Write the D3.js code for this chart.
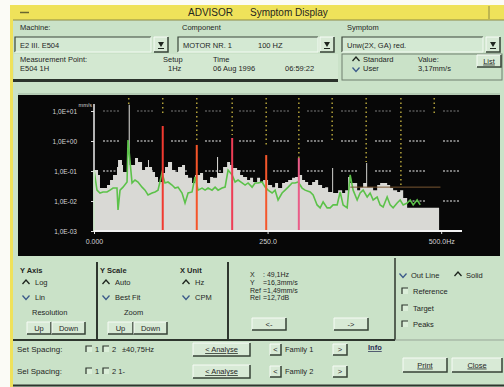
<!DOCTYPE html>
<html>
<head>
<meta charset="utf-8">
<script src="https://cdn.jsdelivr.net/npm/d3@7"></script>
<style>
  html, body { margin: 0; padding: 0; background: #fff; }
  svg { display: block; font-family: "Liberation Sans", Arial, sans-serif; }
</style>
</head>
<body>
<div id="chart"></div>
<script>
// solid spectrum (grey), [frequency Hz, amplitude mm/s]
const spectrum = [
  [0, 0.108], [5.8, 0.074], [8.6, 0.027], [15.9, 0.027], [18.7, 0.034], [23.1, 0.05],
  [27.4, 0.074], [33.1, 0.136], [34.6, 0.233], [37.5, 0.233], [40.3, 0.158], [41.8, 0.093],
  [47.6, 0.585], [50, 16.3], [51.5, 0.158], [59.1, 0.271], [63.4, 0.2], [69.2, 0.108],
  [73.5, 0.136], [77.8, 0.233], [79.2, 0.136], [83.6, 0.093], [87.9, 0.063], [92.2, 0.043],
  [97.9, 0.086], [102.3, 0.136], [106.6, 0.2], [112.4, 0.108], [116.7, 0.093], [121, 0.136],
  [126.8, 0.158], [131.1, 0.074], [135.5, 0.059], [141.2, 0.04], [145.5, 0.074], [152.7, 0.086],
  [157.1, 0.05], [162.8, 0.04], [167.2, 0.063], [171.5, 0.059], [177.2, 0.293], [178.7, 0.086],
  [185.9, 0.136], [191.7, 0.2], [196, 0.158], [200.3, 0.126], [206.1, 0.108], [210.4, 0.074],
  [214.7, 0.063], [220.5, 0.05], [224.8, 0.059], [229.1, 0.043], [234.9, 0.059], [239.2, 0.04],
  [243.5, 0.05], [250.7, 0.034], [256.5, 0.029], [260.8, 0.04], [265.1, 0.027], [270.9, 0.04],
  [275.2, 0.043], [279.6, 0.05], [285.3, 0.059], [289.6, 0.063], [294, 0.074], [299.7, 0.05],
  [304, 0.043], [308.4, 0.034], [314.1, 0.043], [318.5, 0.05], [322.8, 0.034], [328.5, 0.027],
  [332.9, 0.029], [337.2, 0.02], [343, 0.126], [344.4, 0.0185], [351.6, 0.023], [357.4, 0.0185],
  [361.7, 0.023], [366, 0.063], [368.9, 0.04], [373.2, 0.04], [379, 0.023], [383.3, 0.029],
  [387.6, 0.04], [392, 0.185], [393.4, 0.029], [402, 0.023], [407.8, 0.034], [412.1, 0.04],
  [416.4, 0.04], [422.2, 0.034], [426.5, 0.027], [430.8, 0.023], [436.6, 0.02], [440.9, 0.023],
  [445.3, 0.0126], [451, 0.0059], [497, 0.0059]
]

// outline / reference trace (green)
const reference = [
  [0, 0.001], [0, 0.108], [4.3, 0.023], [8.6, 0.0185], [13, 0.02], [18.7, 0.02], [23.1, 0.023],
  [27.4, 0.027], [33.1, 0.027], [34.6, 0.005], [37.5, 0.023], [41.8, 0.029], [47.6, 0.043],
  [49, 1.08], [54.8, 0.04], [59.1, 0.05], [63.4, 0.043], [69.2, 0.029], [73.5, 0.023],
  [77.8, 0.0158], [83.6, 0.0185], [87.9, 0.02], [92.2, 0.023], [97.9, 0.086], [102.3, 0.04],
  [106.6, 0.043], [112.4, 0.034], [116.7, 0.027], [121, 0.029], [126.8, 0.0185], [131.1, 0.0086],
  [135.5, 0.0185], [141.2, 0.02], [145.5, 0.063], [149.9, 0.023], [155.6, 0.027], [160, 0.023],
  [164.3, 0.027], [170, 0.023], [174.4, 0.029], [178.7, 0.023], [184.4, 0.027], [188.8, 0.029],
  [193.1, 0.108], [198.9, 0.074], [203.2, 0.043], [207.5, 0.05], [213.3, 0.04], [217.6, 0.034],
  [221.9, 0.04], [227.7, 0.029], [232, 0.04], [236.3, 0.04], [242.1, 0.043], [246.4, 0.029],
  [250.7, 0.023], [256.5, 0.0185], [260.8, 0.023], [265.1, 0.0108], [270.9, 0.0185], [275.2, 0.023],
  [279.6, 0.029], [285.3, 0.04], [289.6, 0.04], [294, 0.043], [299.7, 0.027], [304, 0.023],
  [311.3, 0.02], [315.6, 0.0158], [321.3, 0.0074], [325.7, 0.0059], [330, 0.0093], [335.8, 0.0059],
  [340.1, 0.0059], [344.4, 0.0074], [350.2, 0.0074], [354.5, 0.02], [358.8, 0.0074], [364.6, 0.0059],
  [368.9, 0.074], [373.2, 0.023], [379, 0.0108], [383.3, 0.0185], [387.6, 0.023], [393.4, 0.0136],
  [397.7, 0.0185], [402, 0.0108], [407.8, 0.0136], [412.1, 0.0074], [416.4, 0.0063], [422.2, 0.0136],
  [426.5, 0.0074], [430.8, 0.0059], [436.6, 0.0086], [440.9, 0.0108], [445.3, 0.0074], [451, 0.0086],
  [455.4, 0.0108], [459.7, 0.0074], [465.4, 0.0108], [469.8, 0.0074]
]

// harmonic markers (yellow dotted), Hz and the level where each marker ends
const harmonicFreq = [50, 99, 148, 199, 248, 295, 343, 392, 442, 490]
const harmonicMarkEnd = [13.6, 7.4, 1.08, 1.58, 0.74, 0.27, 1.08, 0.2, 0.034, 7.4]

// selected harmonics shown as red lines
const cursorFreq = [99, 148, 199, 248, 295]
const cursorAmp = [3.16, 0.74, 1.26, 0.34, 0.27]

// band line (brown)
const band = [369, 499]
const bandLevel = 0.029

const yTicks = [10, 1, 0.1, 0.01, 0.001]
const yTickLabels = ["1,0E+01", "1,0E+00", "1,0E-01", "1,0E-02", "1,0E-03"]
const xTicks = [0, 250, 500]
const xTickLabels = ["0.000", "250.0", "500.0Hz"]

const W = 504, H = 387
const body = "#cae2c8"
const ink = "#1f261f"

const svg = d3.select("#chart").append("svg")
  .attr("width", W)
  .attr("height", H)

svg.append("rect").attr("width", W).attr("height", H).attr("fill", "#fbfbf6")

function label(x, y, s, o = {}) {
  return svg.append("text")
    .attr("x", x).attr("y", y)
    .attr("font-size", o.size || 7.5)
    .attr("font-weight", o.weight || null)
    .attr("fill", o.fill || ink)
    .attr("text-anchor", o.anchor || "start")
    .attr("text-decoration", o.underline ? "underline" : null)
    .text(s)
}

function hline(x1, x2, y, color, w) {
  svg.append("line").attr("x1", x1).attr("x2", x2).attr("y1", y).attr("y2", y)
    .attr("stroke", color).attr("stroke-width", w || 1)
}

function vline(x, y1, y2, color, w) {
  svg.append("line").attr("x1", x).attr("x2", x).attr("y1", y1).attr("y2", y2)
    .attr("stroke", color).attr("stroke-width", w || 1)
}

function button(x, y, w, h, s, o = {}) {
  svg.append("rect").attr("x", x).attr("y", y).attr("width", w).attr("height", h).attr("fill", "#d8ead6")
  svg.append("path").attr("d", `M${x},${y + h}V${y}H${x + w}`).attr("fill", "none").attr("stroke", "#f6fbf5")
  svg.append("path").attr("d", `M${x},${y + h}H${x + w}V${y}`).attr("fill", "none")
    .attr("stroke", "#364236").attr("stroke-width", 1.5)
  if (s) label(x + w / 2, y + h / 2 + 2.6, s, { anchor: "middle", size: o.size || 7.5, underline: o.underline })
}

function field(x, y, w, h) {
  svg.append("rect").attr("x", x).attr("y", y).attr("width", w).attr("height", h).attr("fill", "#d4e9d3")
  svg.append("path").attr("d", `M${x},${y + h}V${y}H${x + w}`).attr("fill", "none")
    .attr("stroke", "#3a463a").attr("stroke-width", 1.2)
  svg.append("path").attr("d", `M${x},${y + h}H${x + w}V${y}`).attr("fill", "none").attr("stroke", "#f3faf2")
}

function dropdown(x, y) {
  button(x, y, 14, 15)
  svg.append("path").attr("d", `M${x + 4},${y + 5}H${x + 10}L${x + 7},${y + 10}Z`).attr("fill", ink)
  hline(x + 4, x + 10, y + 11.5, ink)
}

function radio(x, y, on) {
  const d = on ? `M${x - 3.5},${y + 2}L${x},${y - 2}L${x + 3.5},${y + 2}`
               : `M${x - 3.5},${y - 1.5}L${x},${y + 2.5}L${x + 3.5},${y - 1.5}`
  svg.append("path").attr("d", d).attr("fill", "none").attr("stroke", on ? "#1d241d" : "#3b5a8a").attr("stroke-width", 1.3)
}

function check(x, y) {
  svg.append("rect").attr("x", x).attr("y", y).attr("width", 6).attr("height", 6).attr("fill", "#dbeed9")
  svg.append("path").attr("d", `M${x},${y + 6}V${y}H${x + 6}`).attr("fill", "none").attr("stroke", "#2c352c").attr("stroke-width", 1.2)
}

// window frame + title bar
svg.append("rect").attr("x", 10).attr("y", 5).attr("width", 494).attr("height", 382).attr("fill", "#efe25a")
svg.append("rect").attr("x", 13).attr("y", 20).attr("width", 491).attr("height", 367).attr("fill", body)
hline(13, 504, 20, "#8d8a45")
hline(20, 29, 12.5, "#6a6630", 1.5)
vline(489, 6, 19, "#8d8a45")
label(188, 16, "ADVISOR", { size: 10 })
label(250, 16, "Symptom Display", { size: 10 })

// header rows
label(20, 30, "Machine:")
label(182, 30, "Component")
label(347, 30, "Symptom")
field(15, 37, 136, 15)
label(20, 48, "E2 III. E504")
dropdown(154, 37)
field(178, 37, 140, 15)
label(183, 48, "MOTOR NR. 1")
label(258, 48, "100 HZ")
dropdown(320, 37)
field(342, 37, 141, 15)
label(347, 48, "Unw(2X, GA) red.")
dropdown(486, 37)

svg.append("rect").attr("x", 14).attr("y", 54).attr("width", 324).attr("height", 25).attr("fill", "#d3e8d1")
hline(13, 338, 80.5, "#2b332b", 3)
label(20, 62, "Measurement Point:")
label(20, 71, "E504 1H")
label(163, 62, "Setup")
label(168, 71, "1Hz")
label(213, 62, "Time")
label(213, 71, "06 Aug 1996")
label(285, 71, "06:59:22")

svg.append("rect").attr("x", 342).attr("y", 54).attr("width", 160).attr("height", 26)
  .attr("fill", "none").attr("stroke", "#6f7f6f")
radio(356, 59, true)
label(363, 62, "Standard")
radio(356, 69, false)
label(363, 71, "User")
label(418, 62, "Value:")
label(418, 71, "3,17mm/s")
button(477, 55, 24, 12, "List", { underline: true })

// chart panel
svg.append("rect").attr("x", 18).attr("y", 95).attr("width", 482).attr("height", 161).attr("fill", "#070707")
hline(18, 500, 94, "#9fb59f")

const x = d3.scaleLinear().domain([0, 530]).range([94, 462])
const y = d3.scaleLog().domain([0.001, 10]).range([231, 111])
const plotTop = 98

const plot = svg.append("g")

// dotted grid
plot.append("g").selectAll("line")
  .data(yTicks.slice(0, 4))
  .join("line")
  .attr("x1", x(0)).attr("x2", x(530))
  .attr("y1", d => y(d)).attr("y2", d => y(d))
  .attr("stroke", "#c9c9c9")
  .attr("stroke-width", 1.3)
  .attr("stroke-dasharray", "2,1.5,2,1.5,2,1.5,2,1.5,2,18")
  .attr("stroke-dashoffset", 25)
  .attr("opacity", d => d === 10 ? 0.4 : 0.8)

// solid spectrum
const area = d3.area()
  .x(d => x(d[0]))
  .y0(y(0.001))
  .y1(d => y(d[1]))
  .curve(d3.curveStepAfter)

plot.append("path")
  .datum(spectrum)
  .attr("fill", "#d9d9d5")
  .attr("d", area)

// harmonic markers
plot.append("g").selectAll("line")
  .data(harmonicFreq)
  .join("line")
  .attr("x1", d => x(d)).attr("x2", d => x(d))
  .attr("y1", plotTop)
  .attr("y2", (d, i) => y(harmonicMarkEnd[i]))
  .attr("stroke", "#d2bf45")
  .attr("stroke-width", 1.5)
  .attr("stroke-dasharray", "1.5,3")
  .attr("opacity", 0.85)

// outline trace
const line = d3.line()
  .x(d => x(d[0]))
  .y(d => y(d[1]))

plot.append("path")
  .datum(reference)
  .attr("fill", "none")
  .attr("stroke", "#5cc24a")
  .attr("stroke-width", 1.6)
  .attr("d", line)

// selected harmonics
const redShades = ["#f03a30", "#f5552a", "#ee3d55", "#f4572c", "#ea5c88"]
plot.append("g").selectAll("line")
  .data(cursorFreq)
  .join("line")
  .attr("x1", d => x(d)).attr("x2", d => x(d))
  .attr("y1", (d, i) => y(cursorAmp[i]))
  .attr("y2", y(0.001))
  .attr("stroke", (d, i) => redShades[i])
  .attr("stroke-width", 2)

// band line
plot.append("line")
  .attr("x1", x(band[0])).attr("x2", x(band[1]))
  .attr("y1", y(bandLevel)).attr("y2", y(bandLevel))
  .attr("stroke", "#7a5632")
  .attr("stroke-width", 1)

// axes
const yAxis = plot.append("g")
  .attr("transform", `translate(${x(0)},0)`)
  .call(d3.axisLeft(y).tickValues(yTicks).tickFormat((d, i) => yTickLabels[i]).tickSize(3).tickPadding(14))
yAxis.select(".domain").remove()
yAxis.selectAll("line").attr("stroke", "#dcdcdc")
yAxis.selectAll("text").attr("fill", "#d4d4d4").attr("font-size", 6.5).attr("font-family", "Liberation Sans, sans-serif")

const xAxis = plot.append("g")
  .attr("transform", `translate(0,${y(0.001)})`)
  .call(d3.axisBottom(x).tickValues(xTicks).tickFormat((d, i) => xTickLabels[i]).tickSize(3).tickPadding(5))
xAxis.select(".domain").remove()
xAxis.selectAll("line").attr("stroke", "#e4e4e4")
xAxis.selectAll("text").attr("fill", "#d4d4d4").attr("font-size", 7).attr("font-family", "Liberation Sans, sans-serif")

plot.append("line")
  .attr("x1", x(0)).attr("x2", x(0))
  .attr("y1", y(10) - 7).attr("y2", y(0.001))
  .attr("stroke", "#eeeeee").attr("stroke-width", 1.5)
plot.append("line")
  .attr("x1", x(0)).attr("x2", x(530))
  .attr("y1", y(0.001)).attr("y2", y(0.001))
  .attr("stroke", "#f2f2f2").attr("stroke-width", 2)
plot.append("text")
  .attr("x", x(0) - 2).attr("y", y(10) - 4)
  .attr("text-anchor", "end")
  .attr("font-size", 5.5)
  .attr("fill", "#d8d8d8")
  .text("mm/s")

// control panel
vline(97, 262, 340, "#2e362e", 2)
vline(228, 262, 340, "#2e362e", 2)
vline(395, 258, 340, "#2e362e", 1.5)
hline(13, 395, 340, "#2e362e", 2)
hline(395, 504, 340, "#97a597")
hline(13, 504, 385.5, "#2e362e", 2)

label(20, 273, "Y Axis", { weight: "bold" })
radio(26, 282, true)
label(35, 285, "Log")
radio(26, 297, false)
label(35, 300, "Lin")
label(32, 315, "Resolution")
button(27, 322, 24, 12, "Up")
button(52, 322, 33, 12, "Down")

label(100, 273, "Y Scale", { weight: "bold" })
radio(106, 282, true)
label(115, 285, "Auto")
radio(106, 297, false)
label(115, 300, "Best Fit")
label(124, 315, "Zoom")
button(108, 322, 25, 12, "Up")
button(134, 322, 33, 12, "Down")

label(180, 273, "X Unit", { weight: "bold" })
radio(186, 282, true)
label(195, 285, "Hz")
radio(186, 297, false)
label(195, 300, "CPM")

label(250, 277, "X", { size: 7 })
label(263, 277, ": 49,1Hz", { size: 7 })
label(250, 285, "Y", { size: 7 })
label(263, 285, "=16,3mm/s", { size: 7 })
label(250, 292.5, "Ref", { size: 7 })
label(263, 292.5, "=1,49mm/s", { size: 7 })
label(250, 300, "Rel", { size: 7 })
label(263, 300, "=12,7dB", { size: 7 })
button(252, 318, 34, 12, "<-")
button(334, 318, 34, 12, "->")

radio(403, 275, false)
label(411, 278, "Out Line")
radio(458, 274, true)
label(466, 278, "Solid")
check(402, 288)
label(413, 294, "Reference")
check(402, 305)
label(413, 311, "Target")
check(402, 321)
label(413, 327, "Peaks")

label(17, 352, "Set Spacing:", { size: 8 })
check(86, 346)
label(95, 352, "1")
check(103, 346)
label(112, 352, "2")
label(122, 352, "±40,75Hz")
label(17, 374, "Sel Spacing:", { size: 8 })
check(86, 368)
label(95, 374, "1")
check(103, 368)
label(112, 374, "2  1-")

button(193, 343, 57, 13, "<    Analyse", { underline: true })
button(193, 365, 57, 13, "<    Analyse", { underline: true })

button(270, 344, 11, 11, "<")
label(285, 352, "Family 1")
button(333, 344, 14, 11, ">")
button(270, 366, 11, 11, "<")
label(285, 374, "Family 2")
button(333, 366, 14, 11, ">")
label(368, 350, "Info", { weight: "bold", underline: true, fill: "#2a2f55" })

button(403, 358, 44, 14, "Print", { underline: true })
button(452, 358, 50, 14, "Close", { underline: true })
</script>
</body>
</html>
